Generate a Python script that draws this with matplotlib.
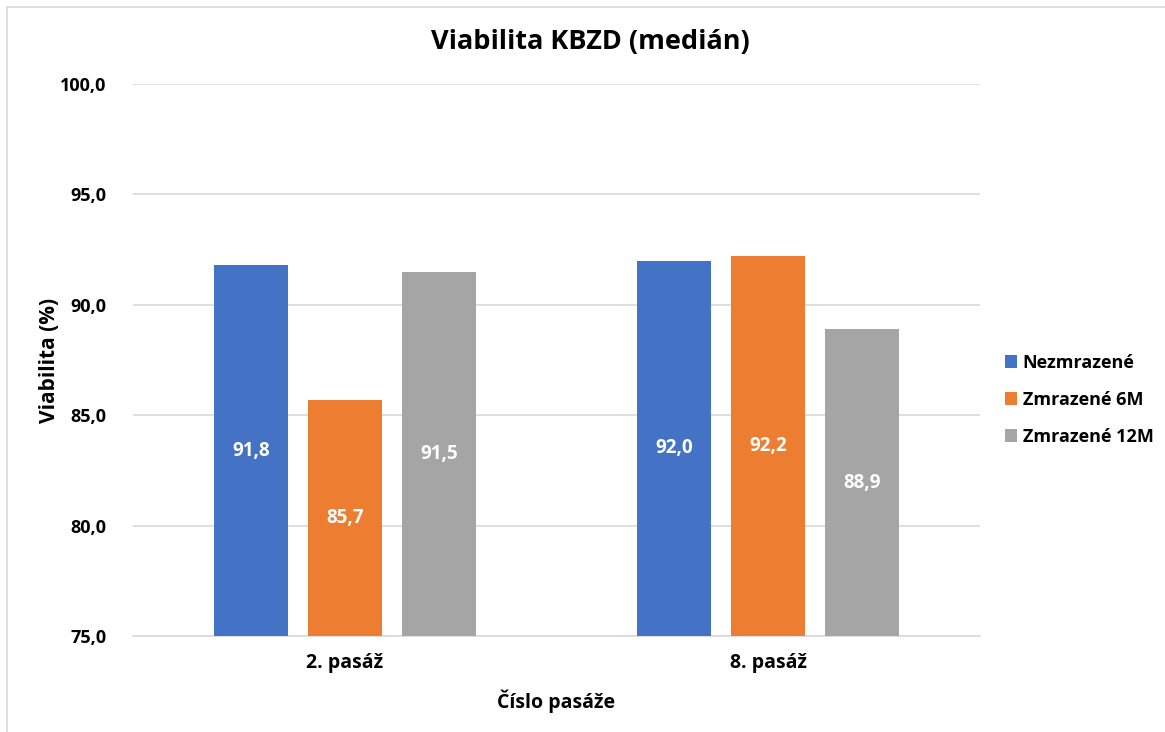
import matplotlib.pyplot as plt
import numpy as np
from matplotlib.patches import Rectangle

plt.rcParams['font.family'] = ['Open Sans', 'DejaVu Sans']
plt.rcParams['font.weight'] = 'bold'

categories = ["2. pasáž", "8. pasáž"]
series_names = ["Nezmrazené", "Zmrazené 6M", "Zmrazené 12M"]
nezmrazene = [91.8, 92.0]
zmrazene_6m = [85.7, 92.2]
zmrazene_12m = [91.5, 88.9]
colors = ["#4472C4", "#ED7D31", "#A5A5A5"]
yticks = [75, 80, 85, 90, 95, 100]

fig = plt.figure(figsize=(11.65, 7.32), dpi=100)
ax = fig.add_axes([0.1142, 0.1311, 0.727, 0.7541])

# faint border like the Excel chart area
fig.patches.append(Rectangle((7 / 1165, -0.05), 1.1, 1.05 - 7 / 732,
                             transform=fig.transFigure, fill=False,
                             edgecolor="#D9D9D9", linewidth=1.2))

x = np.arange(len(categories))
width = 0.175
step = 0.222
for i, (vals, name, col) in enumerate(zip([nezmrazene, zmrazene_6m, zmrazene_12m],
                                          series_names, colors)):
    pos = x + (i - 1) * step
    bars = ax.bar(pos, [v - 75 for v in vals], width, bottom=75, color=col, label=name, zorder=3)
    for b, v in zip(bars, vals):
        ax.text(b.get_x() + b.get_width() / 2, (75 + v) / 2, f"{v:.1f}".replace(".", ","),
                ha="center", va="center", color="white", fontsize=13.5, fontweight="bold", zorder=4)

ax.set_xlim(-0.5, 1.5)
ax.set_ylim(75, 100)
ax.set_yticks(yticks)
ax.set_yticklabels([f"{t:.1f}".replace(".", ",") for t in yticks], fontsize=13, fontweight="bold")
ax.set_xticks(x)
ax.set_xticklabels(categories, fontsize=14, fontweight="bold")
ax.tick_params(axis="y", length=0, pad=19)
ax.tick_params(axis="x", length=0, pad=12)
ax.grid(axis="y", color="#D9D9D9", linewidth=1.2, zorder=0)
for s in ["top", "right", "left"]:
    ax.spines[s].set_visible(False)
ax.spines["bottom"].set_color("#D9D9D9")
ax.spines["bottom"].set_linewidth(1.2)

fig.text(0.507, 1 - 42 / 732, "Viabilita KBZD (medián)", fontsize=19.5, fontweight="bold",
         ha="center", va="center")
ax.set_ylabel("Viabilita (%)", fontsize=15, fontweight="bold", labelpad=0)
ax.set_xlabel("Číslo pasáže", fontsize=14, fontweight="bold", labelpad=12)

ax.legend(loc="center left", bbox_to_anchor=(1.01, 0.4275), frameon=False,
          handlelength=0.7, handleheight=0.7, handletextpad=0.3,
          labelspacing=1.05, prop={"weight": "bold", "size": 13})

fig.savefig("out.png", dpi=100)
